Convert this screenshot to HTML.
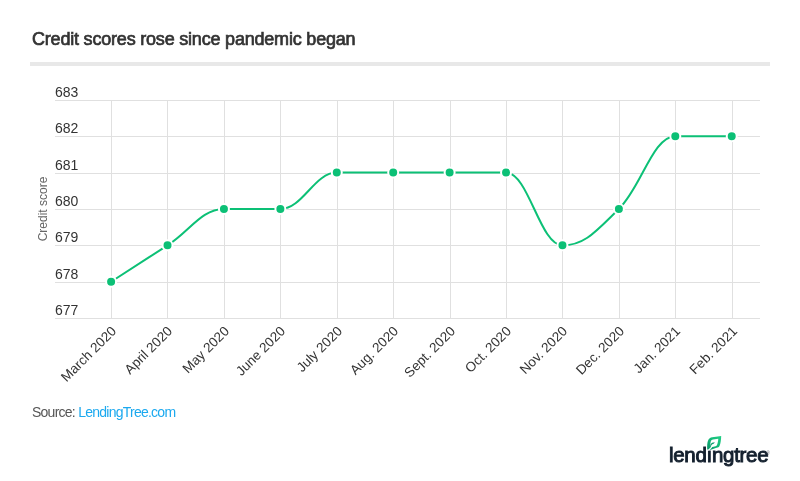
<!DOCTYPE html>
<html><head><meta charset="utf-8"><style>
html,body{margin:0;padding:0;background:#fff;}
body{width:800px;height:481px;overflow:hidden;position:relative;will-change:transform;font-family:"Liberation Sans",Arial,sans-serif;}
.title{position:absolute;left:32px;top:29px;font-size:18px;line-height:20px;font-weight:normal;color:#333;white-space:nowrap;letter-spacing:-0.2px;-webkit-text-stroke:0.7px #333;}
.bar{position:absolute;left:30px;top:62px;width:740px;height:4px;background:#e8e8e8;}
svg{position:absolute;left:0;top:0;}
.src{position:absolute;left:32px;top:404px;font-size:14px;line-height:16px;color:#555;white-space:nowrap;letter-spacing:-0.75px;}
.src span{color:#1ba9ef;}
.logo{position:absolute;left:669px;top:444px;font-size:20.5px;line-height:22px;font-weight:normal;color:#14202e;letter-spacing:-0.3px;white-space:nowrap;-webkit-text-stroke:0.95px #14202e;}
.leaf{position:absolute;left:703px;top:433px;}
.reg{position:absolute;left:766.5px;top:450.5px;font-size:4.5px;line-height:5px;color:#5a606a;}
</style></head><body>
<div class="title">Credit scores rose since pandemic began</div>
<div class="bar"></div>
<svg width="800" height="481" viewBox="0 0 800 481">
<g stroke="#e0e0e0" stroke-width="1" shape-rendering="crispEdges"><line x1="55" x2="760" y1="100.5" y2="100.5"/><line x1="55" x2="760" y1="136.5" y2="136.5"/><line x1="55" x2="760" y1="173.5" y2="173.5"/><line x1="55" x2="760" y1="209.5" y2="209.5"/><line x1="55" x2="760" y1="245.5" y2="245.5"/><line x1="55" x2="760" y1="282.5" y2="282.5"/><line x1="55" x2="760" y1="318.5" y2="318.5"/><line x1="111.5" x2="111.5" y1="100" y2="318.5"/><line x1="167.5" x2="167.5" y1="100" y2="318.5"/><line x1="224.5" x2="224.5" y1="100" y2="318.5"/><line x1="280.5" x2="280.5" y1="100" y2="318.5"/><line x1="337.5" x2="337.5" y1="100" y2="318.5"/><line x1="393.5" x2="393.5" y1="100" y2="318.5"/><line x1="450.5" x2="450.5" y1="100" y2="318.5"/><line x1="506.5" x2="506.5" y1="100" y2="318.5"/><line x1="562.5" x2="562.5" y1="100" y2="318.5"/><line x1="619.5" x2="619.5" y1="100" y2="318.5"/><line x1="675.5" x2="675.5" y1="100" y2="318.5"/><line x1="732.5" x2="732.5" y1="100" y2="318.5"/></g>
<g font-family="Liberation Sans, Arial, sans-serif" font-size="14" fill="#333"><text x="55" y="96.5">683</text><text x="55" y="132.5">682</text><text x="55" y="169.5">681</text><text x="55" y="205.5">680</text><text x="55" y="241.5">679</text><text x="55" y="278.5">678</text><text x="55" y="314.5">677</text></g>
<text x="0" y="0" transform="translate(47 209) rotate(-90)" text-anchor="middle" font-family="Liberation Sans, Arial, sans-serif" font-size="12" fill="#666">Credit score</text>
<g font-family="Liberation Sans, Arial, sans-serif" font-size="13.5" fill="#333" text-anchor="end"><text x="117.0" y="332.0" transform="rotate(-45 117.0 332.0)">March 2020</text><text x="173.0" y="332.0" transform="rotate(-45 173.0 332.0)">April 2020</text><text x="230.0" y="332.0" transform="rotate(-45 230.0 332.0)">May 2020</text><text x="286.0" y="332.0" transform="rotate(-45 286.0 332.0)">June 2020</text><text x="343.0" y="332.0" transform="rotate(-45 343.0 332.0)">July 2020</text><text x="399.0" y="332.0" transform="rotate(-45 399.0 332.0)">Aug. 2020</text><text x="456.0" y="332.0" transform="rotate(-45 456.0 332.0)">Sept. 2020</text><text x="512.0" y="332.0" transform="rotate(-45 512.0 332.0)">Oct. 2020</text><text x="568.0" y="332.0" transform="rotate(-45 568.0 332.0)">Nov. 2020</text><text x="625.0" y="332.0" transform="rotate(-45 625.0 332.0)">Dec. 2020</text><text x="681.0" y="332.0" transform="rotate(-45 681.0 332.0)">Jan. 2021</text><text x="738.0" y="332.0" transform="rotate(-45 738.0 332.0)">Feb. 2021</text></g>
<path d="M 111.10 281.76 C 111.10 281.76 144.95 259.92 167.52 245.36 C 190.09 230.80 201.37 208.96 223.94 208.96 C 246.51 208.96 257.79 208.96 280.36 208.96 C 302.93 208.96 314.21 172.56 336.78 172.56 C 359.35 172.56 370.63 172.56 393.20 172.56 C 415.77 172.56 427.05 172.56 449.62 172.56 C 472.19 172.56 483.47 172.56 506.04 172.56 C 528.61 172.56 539.89 245.36 562.46 245.36 C 585.03 245.36 596.31 230.80 618.88 208.96 C 641.45 187.12 652.73 136.16 675.30 136.16 C 697.87 136.16 731.72 136.16 731.72 136.16" fill="none" stroke="#0cc076" stroke-width="2" stroke-linecap="round" stroke-linejoin="round"/>
<g fill="#0cc076" stroke="#fff" stroke-width="2"><circle cx="111.10" cy="281.76" r="5"/><circle cx="167.52" cy="245.36" r="5"/><circle cx="223.94" cy="208.96" r="5"/><circle cx="280.36" cy="208.96" r="5"/><circle cx="336.78" cy="172.56" r="5"/><circle cx="393.20" cy="172.56" r="5"/><circle cx="449.62" cy="172.56" r="5"/><circle cx="506.04" cy="172.56" r="5"/><circle cx="562.46" cy="245.36" r="5"/><circle cx="618.88" cy="208.96" r="5"/><circle cx="675.30" cy="136.16" r="5"/><circle cx="731.72" cy="136.16" r="5"/></g>
</svg>
<div class="logo">lendıngtree</div><div class="reg">&reg;</div>
<svg class="leaf" width="20" height="20" viewBox="0 0 20 20"><defs><linearGradient id="lg" x1="0" y1="1" x2="1" y2="0"><stop offset="0" stop-color="#0a9468"/><stop offset="0.55" stop-color="#14bb79"/><stop offset="1" stop-color="#24cf86"/></linearGradient></defs><path fill-rule="evenodd" fill="url(#lg)" d="M4.2 16.6 C4.0 12.5 4.2 9.5 5.2 7.2 C6.0 5.4 7.3 4.6 9.2 4.3 L18.2 2.9 C18.1 6.6 17.6 10.4 16.5 13.0 C16.0 14.2 15.0 14.6 13.6 14.8 L7.8 16.7 Z M8.3 14.3 L12.6 13.2 C13.4 13.0 13.8 12.6 14.1 11.8 C14.7 10.2 15.1 8.3 15.3 5.8 L10.0 6.5 C9.0 6.7 8.3 7.1 7.9 8.0 C7.4 9.3 7.3 11.0 7.3 12.6 Z"/><path d="M7.2 12.4 C7.6 10.8 8.6 9.9 10.2 9.6 L11.8 9.3 C11.3 10.6 10.2 11.2 9.0 11.4 C8.4 11.9 8.0 12.8 7.8 13.6 Z" fill="#0c9e6c"/><path d="M5.4 17.3 L8.7 14.0" stroke="#fff" stroke-width="1.1"/></svg>
<div class="src">Source: <span>LendingTree.com</span></div>
</body></html>
